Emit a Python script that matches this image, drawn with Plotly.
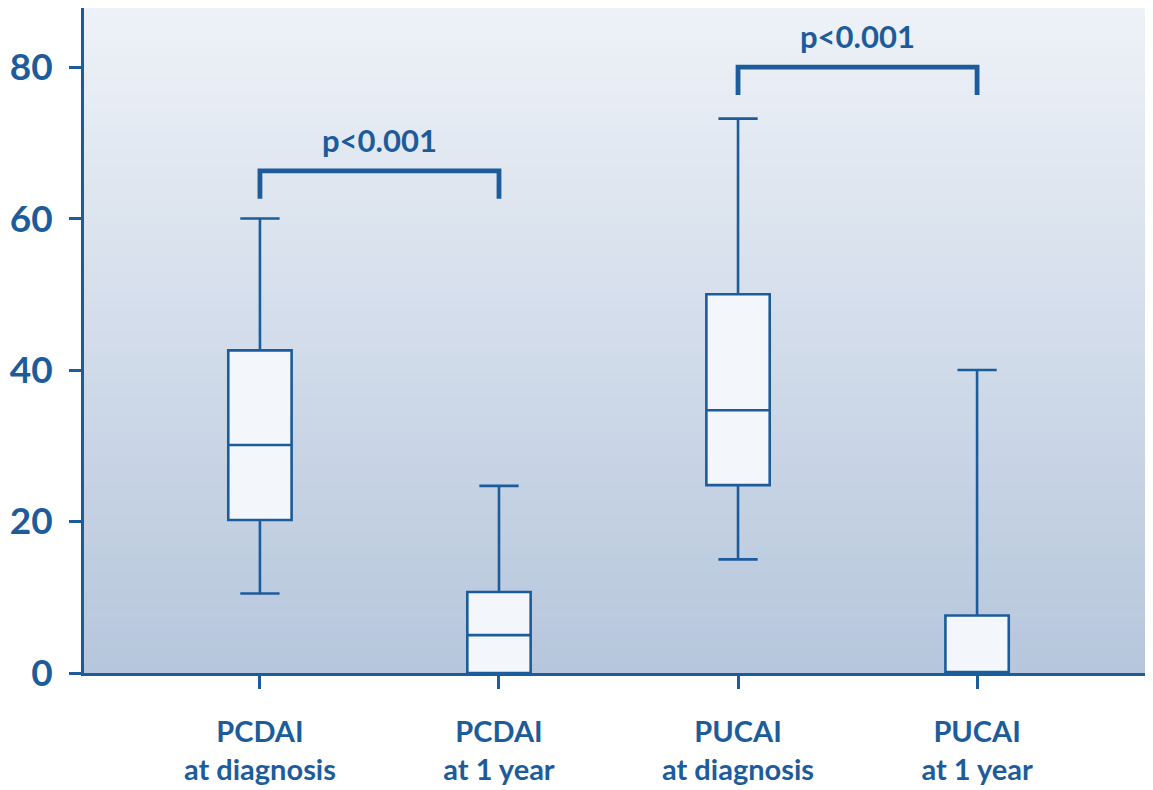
import plotly.graph_objects as go

categories = ["PCDAI<br>at diagnosis", "PCDAI<br>at 1 year", "PUCAI<br>at diagnosis", "PUCAI<br>at 1 year"]
positions = [0, 1, 2, 3]
lower_whisker = [10.5, 0.0, 15.0, 0.0]
q1 = [20.2, 0.0, 24.8, 0.0]
median = [30.1, 5.0, 34.7, 0.0]
q3 = [42.6, 10.7, 50.0, 7.6]
upper_whisker = [60.0, 24.7, 73.2, 40.0]
y_ticks = [0, 20, 40, 60, 80]

# significance brackets: (from index, to index, bar level, leg bottom, label)
bracket_from = [0, 2]
bracket_to = [1, 3]
bracket_level = [66.3, 80.0]
bracket_leg = [62.6, 76.3]
bracket_label = ["p<0.001", "p<0.001"]

LINE = "#1d5c9b"
FONT = "Lato"

fig = go.Figure()
fig.add_trace(go.Box(
    x=positions, q1=q1, median=median, q3=q3,
    lowerfence=lower_whisker, upperfence=upper_whisker,
    width=0.265, whiskerwidth=0.62,
    fillcolor="#f3f6fb", line=dict(color=LINE, width=2.6),
    boxpoints=False, showlegend=False, hoverinfo="skip",
))

# vertical gradient background (styling only)
shapes = []
n = 80
top = (238, 242, 248)
bot = (182, 198, 220)
for i in range(n):
    t = (i + 0.5) / n
    c = tuple(round(top[k] + (bot[k] - top[k]) * t) for k in range(3))
    shapes.append(dict(type="rect", xref="paper", yref="paper",
                       x0=0, x1=1, y0=1 - (i + 1) / n, y1=1 - i / n + 0.001,
                       fillcolor="rgb(%d,%d,%d)" % c, line=dict(width=0), layer="below"))

annotations = []
for a, b, lvl, leg, lab in zip(bracket_from, bracket_to, bracket_level, bracket_leg, bracket_label):
    shapes.append(dict(type="path", xref="x", yref="y",
                       path="M %s,%s L %s,%s L %s,%s L %s,%s" % (positions[a], leg, positions[a], lvl,
                                                                 positions[b], lvl, positions[b], leg),
                       line=dict(color=LINE, width=4.8)))
    annotations.append(dict(x=(positions[a] + positions[b]) / 2, y=lvl, xref="x", yref="y",
                            text=lab, showarrow=False, yanchor="bottom", yshift=10,
                            font=dict(family=FONT, size=31, color=LINE, weight=700)))

fig.update_layout(
    width=1145, height=782,
    margin=dict(l=76, r=5, t=0, b=117, autoexpand=False),
    paper_bgcolor="white", plot_bgcolor="rgba(0,0,0,0)",
    shapes=shapes, annotations=annotations,
    xaxis=dict(range=[-0.736, 3.715], tickmode="array", tickvals=positions, ticktext=categories,
               ticks="outside", ticklen=13, tickwidth=2.5, tickcolor=LINE, automargin=False,
               showline=True, linecolor=LINE, linewidth=3, showgrid=False, zeroline=False,
               tickfont=dict(family=FONT, size=29, color=LINE, weight=700), ticklabelstandoff=18),
    yaxis=dict(range=[0, 87.8], tickmode="array", tickvals=y_ticks, automargin=False,
               ticks="outside", ticklen=12, tickwidth=2.5, tickcolor=LINE,
               showline=True, linecolor=LINE, linewidth=3, mirror=True, showgrid=False, zeroline=False,
               tickfont=dict(family=FONT, size=37, color=LINE, weight=700), ticklabelstandoff=9),
)

fig.write_html("out.html")
